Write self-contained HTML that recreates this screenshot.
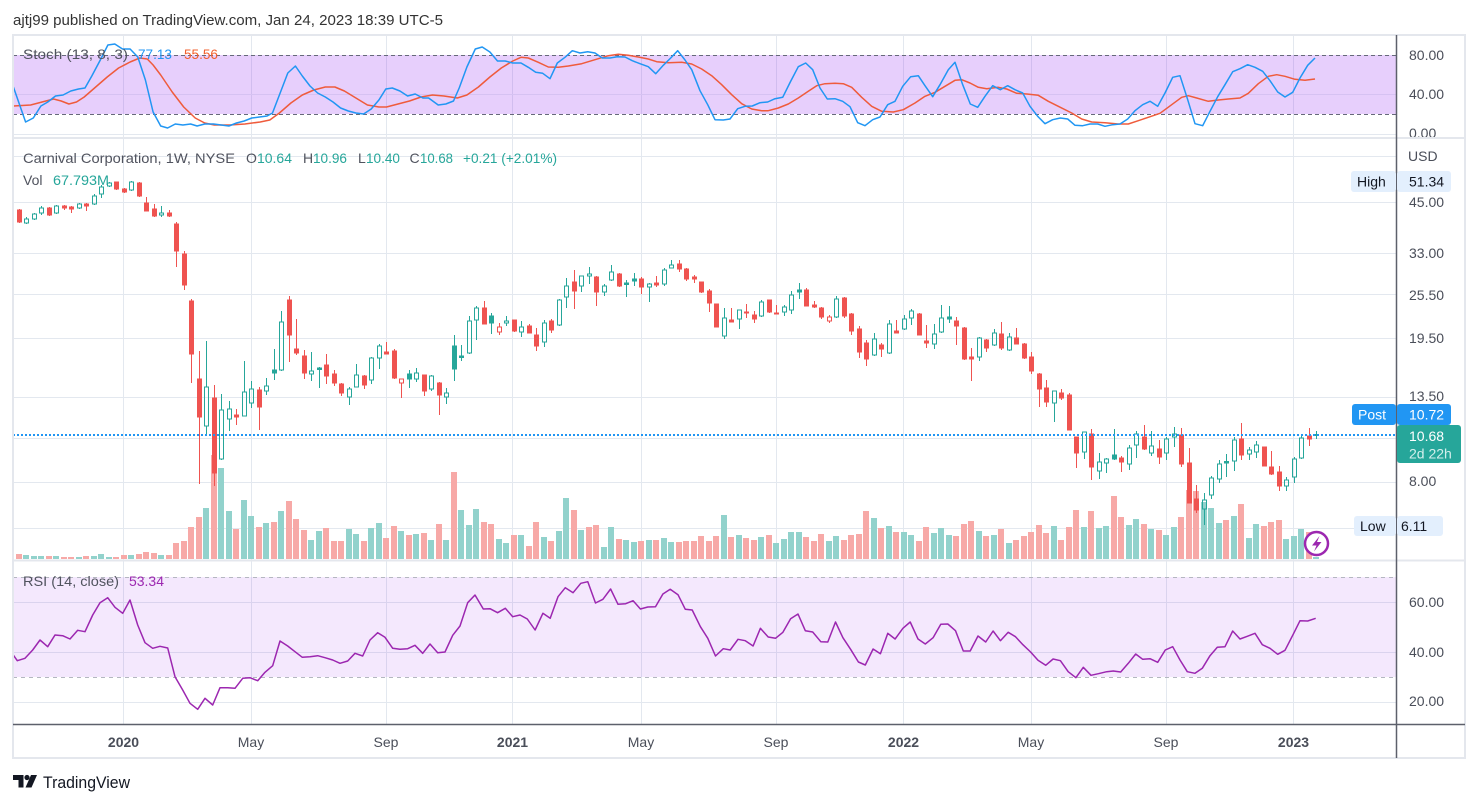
<!DOCTYPE html>
<html><head><meta charset="utf-8"><style>
html,body{margin:0;padding:0;background:#fff;}
svg{display:block;}
text{font-family:"Liberation Sans",Arial,sans-serif;}
</style></head><body>
<svg width="1479" height="803" viewBox="0 0 1479 803" xmlns="http://www.w3.org/2000/svg">
<defs>
<clipPath id="cs"><rect x="13" y="35" width="1383" height="102"/></clipPath>
<clipPath id="cm"><rect x="13" y="139" width="1383" height="420"/></clipPath>
<clipPath id="cr"><rect x="13" y="561" width="1383" height="162"/></clipPath>
<clipPath id="cax"><rect x="1397" y="35" width="68" height="102"/></clipPath>
</defs>
<rect width="1479" height="803" fill="#fff"/>

<text x="13" y="25" font-size="15" fill="#333" textLength="430" lengthAdjust="spacingAndGlyphs">ajtj99 published on TradingView.com, Jan 24, 2023 18:39 UTC-5</text>

<g stroke="#e3e8ef" stroke-width="1">
<path d="M123.5 35V724M251.5 35V724M386.5 35V724M512.5 35V724M641.5 35V724M776.5 35V724M903.5 35V724M1031.5 35V724M1166.5 35V724M1293.5 35V724"/>
<path d="M13 94.5H1396M13 134.5H1396"/>
<path d="M13 156.5H1396M13 202.5H1396M13 253.5H1396M13 294.5H1396M13 338.5H1396M13 397.5H1396M13 438.5H1396M13 482.5H1396M13 528.5H1396"/>
<path d="M13 602.5H1396M13 652.5H1396M13 702.5H1396"/>
</g>

<g clip-path="url(#cs)">
<rect x="13" y="55" width="1383" height="59" fill="rgba(140,30,240,0.21)"/>
<path d="M13 94.5H1396" stroke="#d6c2f2" stroke-width="1"/>
<path d="M13 55.5H1396M13 114.5H1396" stroke="#66697a" stroke-width="1" stroke-dasharray="4 3"/>
<polyline fill="none" stroke="#ef5b3c" stroke-width="1.5" stroke-linejoin="round" points="13.4,106 30.6,105 38.3,103 45.9,101 53.6,99 61.2,101 68.9,104 76.5,102 84.2,97 95.7,87 107.2,77 118.6,68 130.1,62 139.7,58 147.3,59 153.1,65 160.7,75 172.2,92 183.7,107 195.2,118 204.7,123 214.3,125 229.6,125 244.9,124 260.2,122 269.8,120 279.4,113 290.9,103 302.3,95 313.8,90 325.3,87 334.9,87 344.4,91 355.9,98 367.4,105 378.9,107 386.5,107 398,104 409.5,101 421,97 432.5,95 443.9,96 457.3,98 466.9,95 478.4,87 489.9,77 501.3,68 512.8,61 521,57.3 528.3,58 538.3,62.3 548.3,67 558.3,67.3 568.3,66 581.7,63.7 595,59.7 608.3,55.7 618.3,54.3 628.3,55.3 638.3,57 648.3,59 656.7,61.7 668.3,62.7 681.7,62.3 691.7,64 701.7,69 711.7,75.7 721.7,84.7 731.7,94.7 741.7,103.7 751.7,109 761.7,110.7 768.3,110.7 778.3,108 788.3,104 798.3,98 808.3,91.3 816.7,85.7 825,83.7 835,83.3 843.3,83.7 851.7,87.3 861.7,97.3 871.7,106.3 881.7,111.3 893.3,112 903.3,109.7 915,103 925,96.3 935,92.3 945,86.3 955,80.3 961.7,79.7 970,83 978.3,87.3 986.7,88.7 998.3,87.3 1006.7,89 1016.7,93.3 1026.7,94 1038.3,95.3 1048.3,101.3 1058.3,106.3 1071.7,113 1081.7,119 1091.7,122 1105,122.7 1118.3,124 1128.3,124 1138.3,120.7 1148.3,117.3 1160,113.3 1171.7,104.7 1181.7,97.3 1188.3,95.7 1196.7,98 1208.3,101.3 1218.3,100 1228.3,99 1240,98 1248.3,93.3 1258.3,83.7 1268.3,76.3 1276.7,74.7 1285,76.3 1295,79.3 1305,80.3 1315,79"/>
<polyline fill="none" stroke="#2196f3" stroke-width="1.5" stroke-linejoin="round" points="13.4,87 25.6,122 33.3,118 40.9,106 47.8,102 55.5,96 63.1,95 70.8,91 78.5,89 85,88 91.8,76 100.3,60 107.9,45 114.8,44 122.5,49 130.1,49 137.8,57 145.4,80 153.1,112 160.7,126 167.6,128 175.3,124 182.9,125 190.6,124 197.1,126 204.7,124 213.5,124 221.2,125 228.9,126 236.5,123 244.2,121 251.8,118 259.5,117 267.1,116 272.5,113 281.3,90 287.8,73 295.4,66 302.3,76 310,86 317.6,93 325.3,97 333,102 340.6,108 348.3,111 355.9,113 363.6,114 371.2,109 378.9,100 385.8,89 392.3,88 399.9,91 407.6,96 415.2,94 422.9,98 428.6,98 438.2,105 445.8,104 453.5,101 459.2,88 466.9,67 475.3,49 482.2,47 489.9,52 497.5,61 505.2,61 512.8,63 521,63 528.3,67.3 535.7,72.3 542.7,73.3 550,78.7 557.3,63 565,57.3 572.3,50.7 580,53 587.7,51.7 595,53 602.3,58 610,58 617.3,56.7 625,57 632.3,60.7 640,63.7 648.3,66.7 655.7,73.7 663.3,65.3 670.7,58 677.7,50.7 685,60 691.7,69.7 700,90.7 707.7,104.7 715,119.7 723.3,120 730,119 737.7,108.7 745,106.3 752.3,106 760,102.7 767.7,102 775,98.7 782.7,97.3 790.3,82 798.3,66.7 805.7,63 812.7,69.7 820,88 827.3,99 835,98.7 842.7,101.3 850,106.7 857.7,122.7 865,125.7 872.7,119.7 880,117 887.7,104.7 895,101.3 902.7,86.3 910.7,76.7 918.3,75.7 925,85.7 932.7,96.7 940,84.7 948.3,69.7 955,62.3 962.7,84.7 970.3,104 977.7,107.3 985,96.3 992.7,85.7 1000.3,89.7 1007.7,85.7 1015,89.7 1022.7,93 1030,106.3 1037.7,116.3 1045,123.7 1052.7,119.7 1060.3,118 1067.7,119 1075,125.3 1082.7,125.7 1090,124 1097.7,124 1105,126.3 1112.7,124.7 1120,124 1127.7,119 1135,110.7 1142.7,104.7 1150,101.3 1157.7,106.3 1165,93 1172.7,77.3 1180,75.7 1187.7,99.7 1195,123.7 1202.7,125.7 1210,111.3 1217.7,96.7 1225,84.7 1232.7,71.7 1240,68.7 1247.7,64.7 1255,67.3 1262.7,71.3 1270,80.7 1277.7,92 1285,97 1292.7,92.3 1300,78 1307.7,65.3 1315,58"/>
</g>
<text x="23" y="59" font-size="14" fill="#50535e" textLength="105" lengthAdjust="spacingAndGlyphs">Stoch (13, 8, 3)</text>
<text x="138" y="59" font-size="14" fill="#2196f3" textLength="34" lengthAdjust="spacingAndGlyphs">77.13</text>
<text x="184" y="59" font-size="14" fill="#f2602f" textLength="34" lengthAdjust="spacingAndGlyphs">55.56</text>

<g clip-path="url(#cr)">
<rect x="13" y="577" width="1383" height="100" fill="rgba(150,30,240,0.1)"/>
<path d="M13 577.5H1396M13 677.5H1396" stroke="#b4b7c0" stroke-width="1" stroke-dasharray="4 4"/>
<polyline fill="none" stroke="#9c27b0" stroke-width="1.5" stroke-linejoin="round" points="13.3,655 17.3,660.7 25,658.3 32.7,650 40,640 47.7,646.7 55,635 62.7,635.7 70,639 77.7,630.3 85,631.7 92.7,615 100,602.7 107.7,597.7 115,607.3 122.7,613.3 130,600 137.7,625 145,642.7 152.7,648.3 160,646.3 167.7,648 175,676.7 182.7,690 190,703.3 197.7,709.3 205,698.3 212.7,705 220,687.7 227.7,687.7 235,688.3 242.7,678.3 250,677.7 257.7,680.7 265,672.3 272.7,665.7 280,641 287.7,646 295,651.7 302.3,657.3 310,656.7 317.7,655.7 325,657.7 332.7,660 340,663.3 347.7,661 355,653.3 362.7,656 370,640 377.7,632.7 385,637.3 392.7,648.3 400,649.3 407.7,648.7 415,645.3 422.7,653.3 430,644 437.7,652.7 445,652 452.7,635.3 460,626 467.7,602.7 475,595 483.3,609 490,608.7 497.6,612.7 505.3,608.3 512.7,616.7 520,615 527.3,619 535.1,630 542.9,613.3 550.2,618.3 558,596.7 565.3,587.7 573.1,592.7 580.8,583.3 587.8,581.7 595.5,603 602.9,599.3 610.6,589 618,604.3 625.7,603.7 633.1,600.7 640.4,609 647.8,607 655.5,606.7 662.9,594 670.2,589.3 678,594.7 685.3,609.3 692.2,610 700.4,626.7 707.8,638.3 715.5,656 723.3,648.7 730.2,650 738,639.3 745.3,640.7 753.1,646 760.4,628.3 768.2,637 775.5,638.3 782.9,632.3 790.6,618.7 798,614 805.3,630.7 812.7,632 820.8,641.7 827.8,642 835.5,622 842.9,637.7 850.6,649.3 858.4,662 865.3,665 873.1,649 880.4,653.7 887.8,633.3 895.1,639 902.9,628.3 910.2,622 918,639 925.3,644 933.1,637.7 940.8,624.3 947.8,624 955.5,630.7 963.3,651 970.2,651 978,636 985.7,642 993.1,631 1000.4,640.7 1008.2,632.3 1015.5,636.7 1022.9,644.7 1030.6,652 1038,660.3 1045.7,665.3 1053.1,659 1060.4,660.7 1068.2,671.7 1075.9,677.7 1083.3,667.3 1091,675.3 1098.4,673.7 1106.7,671.7 1113.3,671 1120.7,672 1128.3,663.3 1135.7,654 1142.7,659.3 1150,658.7 1157.7,662.3 1165.3,650 1172.7,646.7 1180,660 1187.3,671.7 1195,673.3 1202.3,668.3 1210,655.7 1217.3,647.3 1225,646.7 1232.7,631 1240,639 1247.3,636.3 1255,633.3 1262.3,644.7 1270,648.3 1277.7,654.3 1285,650.3 1292.7,635.3 1300,620.7 1307.7,621 1315.7,618.3"/>
</g>
<text x="23" y="586" font-size="14" fill="#50535e" textLength="96" lengthAdjust="spacingAndGlyphs">RSI (14, close)</text>
<text x="129" y="586" font-size="14" fill="#9c27b0" textLength="35" lengthAdjust="spacingAndGlyphs">53.34</text>

<g clip-path="url(#cm)">
<path fill="#f7a9a7" d="M8 554h6V560h-6zM16 554h6V560h-6zM46 556h6V560h-6zM61 557h6V560h-6zM68 557h6V560h-6zM83 556h6V560h-6zM113 557h6V560h-6zM121 555h6V560h-6zM136 554h6V560h-6zM143 552h6V560h-6zM151 553h6V560h-6zM166 555h6V560h-6zM173 543h6V560h-6zM181 541h6V560h-6zM188 527h6V560h-6zM196 517h6V560h-6zM211 455h6V560h-6zM233 529h6V560h-6zM256 527h6V560h-6zM271 522h6V560h-6zM286 501h6V560h-6zM293 519h6V560h-6zM301 530h6V560h-6zM323 528h6V560h-6zM331 541h6V560h-6zM338 541h6V560h-6zM361 541h6V560h-6zM383 538h6V560h-6zM391 526h6V560h-6zM406 535h6V560h-6zM421 533h6V560h-6zM436 524h6V560h-6zM451 472h6V560h-6zM481 522h6V560h-6zM488 524h6V560h-6zM511 535h6V560h-6zM526 546h6V560h-6zM533 522h6V560h-6zM548 541h6V560h-6zM571 510h6V560h-6zM586 527h6V560h-6zM593 525h6V560h-6zM616 539h6V560h-6zM638 541h6V560h-6zM653 540h6V560h-6zM676 542h6V560h-6zM683 541h6V560h-6zM691 541h6V560h-6zM698 536h6V560h-6zM706 541h6V560h-6zM713 536h6V560h-6zM728 537h6V560h-6zM743 538h6V560h-6zM751 540h6V560h-6zM766 535h6V560h-6zM803 537h6V560h-6zM811 541h6V560h-6zM818 534h6V560h-6zM841 540h6V560h-6zM848 535h6V560h-6zM856 534h6V560h-6zM863 511h6V560h-6zM878 528h6V560h-6zM893 532h6V560h-6zM916 541h6V560h-6zM923 527h6V560h-6zM953 536h6V560h-6zM961 524h6V560h-6zM968 521h6V560h-6zM983 536h6V560h-6zM998 529h6V560h-6zM1013 540h6V560h-6zM1021 536h6V560h-6zM1028 532h6V560h-6zM1036 525h6V560h-6zM1043 533h6V560h-6zM1058 540h6V560h-6zM1066 527h6V560h-6zM1073 510h6V560h-6zM1088 511h6V560h-6zM1111 496h6V560h-6zM1118 517h6V560h-6zM1141 524h6V560h-6zM1156 530h6V560h-6zM1178 517h6V560h-6zM1186 490h6V560h-6zM1193 491h6V560h-6zM1223 520h6V560h-6zM1238 504h6V560h-6zM1261 526h6V560h-6zM1268 522h6V560h-6zM1276 520h6V560h-6zM1306 532h6V560h-6z"/>
<path fill="#92d2cc" d="M23 555h6V560h-6zM31 556h6V560h-6zM38 556h6V560h-6zM53 556h6V560h-6zM76 557h6V560h-6zM91 556h6V560h-6zM98 554h6V560h-6zM106 557h6V560h-6zM128 555h6V560h-6zM158 555h6V560h-6zM203 508h6V560h-6zM218 468h6V560h-6zM226 511h6V560h-6zM241 500h6V560h-6zM248 516h6V560h-6zM263 523h6V560h-6zM278 511h6V560h-6zM308 540h6V560h-6zM316 531h6V560h-6zM346 529h6V560h-6zM353 534h6V560h-6zM368 528h6V560h-6zM376 523h6V560h-6zM398 531h6V560h-6zM413 534h6V560h-6zM428 540h6V560h-6zM443 540h6V560h-6zM458 510h6V560h-6zM466 525h6V560h-6zM473 509h6V560h-6zM496 539h6V560h-6zM503 543h6V560h-6zM518 535h6V560h-6zM541 537h6V560h-6zM556 531h6V560h-6zM563 498h6V560h-6zM578 530h6V560h-6zM601 547h6V560h-6zM608 527h6V560h-6zM623 540h6V560h-6zM631 542h6V560h-6zM646 540h6V560h-6zM661 538h6V560h-6zM668 542h6V560h-6zM721 515h6V560h-6zM736 535h6V560h-6zM758 537h6V560h-6zM773 543h6V560h-6zM781 539h6V560h-6zM788 532h6V560h-6zM796 532h6V560h-6zM826 541h6V560h-6zM833 536h6V560h-6zM871 518h6V560h-6zM886 526h6V560h-6zM901 532h6V560h-6zM908 535h6V560h-6zM931 533h6V560h-6zM938 528h6V560h-6zM946 535h6V560h-6zM976 531h6V560h-6zM991 535h6V560h-6zM1006 543h6V560h-6zM1051 526h6V560h-6zM1081 527h6V560h-6zM1096 528h6V560h-6zM1103 526h6V560h-6zM1126 525h6V560h-6zM1133 519h6V560h-6zM1148 529h6V560h-6zM1163 535h6V560h-6zM1171 527h6V560h-6zM1201 502h6V560h-6zM1208 508h6V560h-6zM1216 523h6V560h-6zM1231 516h6V560h-6zM1246 538h6V560h-6zM1253 524h6V560h-6zM1283 539h6V560h-6zM1291 536h6V560h-6zM1298 529h6V560h-6zM1313 557h6V560h-6z"/>

<path fill="#ef5350" stroke="#ef5350" stroke-width="1" d="M11.5 196V212M9.5 198h4V210h-4zM19.5 209V223M17.5 210h4V222h-4zM49.5 207V216M47.5 208h4V215h-4zM64.5 205V210M62.5 206h4V208h-4zM71.5 206V213M69.5 207h4V209h-4zM86.5 203V211M84.5 204h4V206h-4zM116.5 182V190M114.5 182h4V189h-4zM124.5 188V193M122.5 189h4V192h-4zM139.5 182V197M137.5 183h4V196h-4zM146.5 197V211M144.5 203h4V211h-4zM154.5 204V217M152.5 209h4V216h-4zM169.5 210V217M167.5 213h4V216h-4zM176.5 222V267M174.5 224h4V251h-4zM184.5 251V290M182.5 254h4V285h-4zM191.5 299V383M189.5 301h4V354h-4zM199.5 351V484M197.5 379h4V417h-4zM214.5 385V486M212.5 398h4V473h-4zM236.5 409V425M234.5 415h4V417h-4zM259.5 387V430M257.5 390h4V407h-4zM289.5 296V362M287.5 300h4V335h-4zM296.5 319V355M294.5 349h4V353h-4zM304.5 350V379M302.5 356h4V373h-4zM326.5 354V384M324.5 365h4V376h-4zM334.5 370V386M332.5 374h4V383h-4zM341.5 383V396M339.5 384h4V393h-4zM364.5 375V389M362.5 376h4V385h-4zM386.5 342V354M384.5 352h4V354h-4zM394.5 349V379M392.5 351h4V378h-4zM424.5 375V396M422.5 375h4V391h-4zM439.5 382V415M437.5 383h4V395h-4zM484.5 301V324M482.5 308h4V324h-4zM514.5 320V332M512.5 320h4V331h-4zM529.5 324V333M527.5 326h4V333h-4zM536.5 328V351M534.5 335h4V346h-4zM551.5 319V333M549.5 321h4V330h-4zM574.5 270V309M572.5 282h4V291h-4zM596.5 276V306M594.5 277h4V292h-4zM619.5 273V287M617.5 274h4V286h-4zM641.5 277V294M639.5 279h4V287h-4zM656.5 276V287M654.5 283h4V285h-4zM679.5 260V272M677.5 264h4V269h-4zM686.5 268V281M684.5 269h4V279h-4zM694.5 275V283M692.5 277h4V279h-4zM701.5 282V293M699.5 282h4V292h-4zM709.5 289V312M707.5 291h4V303h-4zM716.5 304V327M714.5 304h4V327h-4zM731.5 308V322M729.5 320h4V322h-4zM746.5 304V318M744.5 312h4V313h-4zM754.5 311V323M752.5 315h4V319h-4zM769.5 300V313M767.5 300h4V312h-4zM776.5 305V314M774.5 313h4V314h-4zM806.5 288V306M804.5 290h4V306h-4zM814.5 301V308M812.5 305h4V307h-4zM821.5 307V319M819.5 308h4V317h-4zM844.5 297V318M842.5 298h4V316h-4zM851.5 313V335M849.5 314h4V331h-4zM859.5 326V358M857.5 329h4V352h-4zM866.5 340V366M864.5 343h4V359h-4zM881.5 343V357M879.5 345h4V349h-4zM896.5 320V333M894.5 331h4V333h-4zM919.5 313V335M917.5 314h4V335h-4zM926.5 325V348M924.5 341h4V343h-4zM956.5 317V345M954.5 321h4V326h-4zM964.5 327V360M962.5 328h4V359h-4zM971.5 348V381M969.5 357h4V359h-4zM986.5 339V352M984.5 340h4V348h-4zM1001.5 322V350M999.5 334h4V348h-4zM1016.5 328V344M1014.5 338h4V344h-4zM1024.5 343V359M1022.5 344h4V358h-4zM1031.5 352V374M1029.5 357h4V371h-4zM1039.5 373V407M1037.5 374h4V389h-4zM1046.5 380V407M1044.5 388h4V402h-4zM1061.5 389V400M1059.5 393h4V398h-4zM1069.5 393V430M1067.5 395h4V430h-4zM1076.5 437V468M1074.5 437h4V453h-4zM1091.5 429V480M1089.5 434h4V467h-4zM1121.5 456V472M1119.5 458h4V462h-4zM1144.5 425V450M1142.5 437h4V449h-4zM1159.5 440V464M1157.5 449h4V457h-4zM1181.5 428V467M1179.5 435h4V464h-4zM1189.5 448V503M1187.5 463h4V503h-4zM1196.5 485V513M1194.5 499h4V510h-4zM1241.5 423V460M1239.5 439h4V455h-4zM1264.5 447V466M1262.5 447h4V466h-4zM1271.5 451V475M1269.5 467h4V474h-4zM1279.5 466V491M1277.5 472h4V486h-4zM1309.5 428V446M1307.5 436h4V439h-4z"/>
<path fill="#26a69a" stroke="#26a69a" stroke-width="1" d="M274.5 349V380M272.5 370h4V373h-4zM319.5 367V388M317.5 368h4V369.5h-4zM409.5 370V388M407.5 374h4V379h-4zM454.5 335V381M452.5 346h4V369h-4zM461.5 345V361M459.5 356h4V357.5h-4zM491.5 313V334M489.5 316h4V323h-4zM626.5 280V297M624.5 283h4V284.5h-4zM634.5 273V286M632.5 279h4V281h-4zM799.5 283V299M797.5 290h4V292h-4zM949.5 306V323M947.5 317h4V319h-4zM1114.5 429V460M1112.5 455h4V459h-4zM1226.5 454V477M1224.5 461.5h4V463h-4z"/>
<path fill="none" stroke="#26a69a" stroke-width="1" d="M24.5 219h4V223h-4zM26.5 217V219M26.5 223V224M32.5 214h4V219h-4zM34.5 213V214M34.5 219V220M39.5 208h4V213h-4zM41.5 206V208M41.5 213V215M54.5 206h4V213h-4zM56.5 205V206M56.5 213V214M77.5 204h4V208h-4zM79.5 203V204M79.5 208V209M92.5 196h4V204h-4zM94.5 194V196M94.5 204V205M99.5 187h4V194h-4zM101.5 185V187M101.5 194V198M107.5 183h4V186h-4zM109.5 182V183M109.5 186V187M129.5 182h4V190h-4zM131.5 181V182M131.5 190V191M159.5 213h4V215h-4zM161.5 206V213M161.5 215V217M204.5 387h4V426h-4zM206.5 341V387M206.5 426V435M219.5 410h4V459h-4zM221.5 394V410M221.5 459V460M227.5 409h4V419h-4zM229.5 401V409M229.5 419V431M242.5 392h4V416h-4zM244.5 361V392M249.5 389h4V403h-4zM251.5 381V389M251.5 403V408M264.5 386h4V391h-4zM266.5 378V386M266.5 391V395M279.5 322h4V370h-4zM281.5 311V322M281.5 370V371M309.5 371h4V374h-4zM311.5 352V371M311.5 374V381M347.5 389h4V397h-4zM349.5 387V389M349.5 397V405M354.5 375h4V387h-4zM356.5 364V375M369.5 358h4V380h-4zM371.5 357V358M371.5 380V384M377.5 346h4V358h-4zM379.5 344V346M379.5 358V369M414.5 373h4V379h-4zM416.5 368V373M416.5 379V382M429.5 376h4V389h-4zM431.5 375V376M431.5 389V391M444.5 393h4V397h-4zM446.5 388V393M446.5 397V404M467.5 321h4V353h-4zM469.5 316V321M469.5 353V354M474.5 308h4V320h-4zM476.5 306V308M476.5 320V340M504.5 321h4V323h-4zM506.5 316V321M506.5 323V326M519.5 327h4V332h-4zM521.5 321V327M521.5 332V337M542.5 323h4V342h-4zM544.5 320V323M544.5 342V347M557.5 300h4V325h-4zM559.5 299V300M559.5 325V326M564.5 286h4V297h-4zM566.5 278V286M566.5 297V308M579.5 276h4V286h-4zM581.5 286V292M587.5 274h4V276h-4zM589.5 267V274M589.5 276V284M602.5 286h4V292h-4zM604.5 284V286M604.5 292V296M609.5 272h4V280h-4zM611.5 265V272M611.5 280V281M647.5 284h4V287h-4zM649.5 283V284M649.5 287V302M662.5 270h4V284h-4zM664.5 268V270M664.5 284V286M669.5 265h4V268h-4zM671.5 260V265M722.5 318h4V336h-4zM724.5 308V318M724.5 336V339M737.5 310h4V319h-4zM739.5 319V329M759.5 302h4V316h-4zM761.5 300V302M761.5 316V317M782.5 307h4V312h-4zM784.5 305V307M784.5 312V316M789.5 295h4V310h-4zM791.5 291V295M791.5 310V314M834.5 299h4V317h-4zM836.5 296V299M836.5 317V318M872.5 339h4V355h-4zM874.5 333V339M874.5 355V356M887.5 324h4V353h-4zM889.5 320V324M889.5 353V354M902.5 319h4V329h-4zM904.5 315V319M904.5 329V330M909.5 311h4V318h-4zM911.5 309V311M911.5 318V325M932.5 334h4V344h-4zM934.5 324V334M934.5 344V349M939.5 318h4V332h-4zM941.5 305V318M941.5 332V333M977.5 338h4V357h-4zM979.5 337V338M979.5 357V361M992.5 333h4V345h-4zM994.5 329V333M994.5 345V346M1007.5 337h4V350h-4zM1009.5 333V337M1009.5 350V351M1052.5 391h4V403h-4zM1054.5 403V422M1082.5 432h4V452h-4zM1084.5 452V459M1097.5 462h4V471h-4zM1099.5 453V462M1099.5 471V479M1104.5 459h4V463h-4zM1106.5 458V459M1106.5 463V473M1127.5 448h4V464h-4zM1129.5 445V448M1129.5 464V470M1134.5 434h4V445h-4zM1136.5 431V434M1136.5 445V458M1149.5 446h4V453h-4zM1151.5 431V446M1151.5 453V456M1164.5 439h4V453h-4zM1166.5 437V439M1166.5 453V460M1172.5 434h4V437h-4zM1174.5 427V434M1174.5 437V447M1202.5 500h4V509h-4zM1204.5 493V500M1204.5 509V525M1209.5 478h4V495h-4zM1211.5 476V478M1211.5 495V499M1217.5 464h4V479h-4zM1219.5 460V464M1219.5 479V483M1232.5 440h4V461h-4zM1234.5 437V440M1234.5 461V471M1247.5 450h4V454h-4zM1249.5 447V450M1249.5 454V460M1254.5 445h4V452h-4zM1256.5 441V445M1256.5 452V458M1284.5 480h4V486h-4zM1286.5 477V480M1286.5 486V491M1292.5 459h4V477h-4zM1294.5 457V459M1294.5 477V483M1299.5 438h4V458h-4zM1301.5 436V438M1301.5 458V459M1314.5 434.5h4V435.5h-4zM1316.5 431V434.5M1316.5 435.5V439"/>
<path fill="none" stroke="#ef5350" stroke-width="1" d="M399.5 379h4V383h-4zM401.5 383V398M497.5 327h4V332h-4zM499.5 323V327M499.5 332V335M827.5 317h4V321h-4zM829.5 315V317M829.5 321V323"/>

<path d="M13 435H1396" stroke="#2196f3" stroke-width="2" stroke-dasharray="2 2"/>
</g>

<text x="23" y="163" font-size="14" fill="#50535e" textLength="212" lengthAdjust="spacingAndGlyphs">Carnival Corporation, 1W, NYSE</text>
<text x="246" y="163" font-size="14" fill="#50535e">O</text>
<text x="257" y="163" font-size="14" fill="#26a69a" textLength="35" lengthAdjust="spacingAndGlyphs">10.64</text>
<text x="303" y="163" font-size="14" fill="#50535e">H</text>
<text x="313" y="163" font-size="14" fill="#26a69a" textLength="34" lengthAdjust="spacingAndGlyphs">10.96</text>
<text x="358" y="163" font-size="14" fill="#50535e">L</text>
<text x="366" y="163" font-size="14" fill="#26a69a" textLength="34" lengthAdjust="spacingAndGlyphs">10.40</text>
<text x="409.5" y="163" font-size="14" fill="#50535e">C</text>
<text x="420" y="163" font-size="14" fill="#26a69a" textLength="33" lengthAdjust="spacingAndGlyphs">10.68</text>
<text x="463" y="163" font-size="14" fill="#26a69a" textLength="94" lengthAdjust="spacingAndGlyphs">+0.21 (+2.01%)</text>
<text x="23" y="185" font-size="14" fill="#50535e">Vol</text>
<text x="53" y="185" font-size="14" fill="#26a69a" textLength="56" lengthAdjust="spacingAndGlyphs">67.793M</text>

<circle cx="1316.5" cy="543.5" r="11.5" fill="#fff" stroke="#9c27b0" stroke-width="2.5"/>
<path d="M1319.5 536L1312 545.5H1316.5L1314 551.5L1321.5 542H1317z" fill="#9c27b0"/>

<g fill="none">
<rect x="13" y="35" width="1452" height="723" stroke="#e4e7ed" stroke-width="2"/>
<path d="M13 138H1465M13 560.5H1465" stroke="#e4e7ed" stroke-width="2"/>
<path d="M13 724.5H1465" stroke="#5d606b" stroke-width="1.5"/>
<path d="M1396.5 35V758" stroke="#5d606b" stroke-width="1.5"/>
</g>

<g font-size="14" fill="#4a4e59">
<text x="1409" y="60">80.00</text>
<text x="1409" y="99">40.00</text>
<g clip-path="url(#cax)"><text x="1409" y="138">0.00</text></g>
<text x="1408" y="161">USD</text>
<text x="1409" y="207">45.00</text>
<text x="1409" y="258">33.00</text>
<text x="1409" y="300">25.50</text>
<text x="1409" y="343">19.50</text>
<text x="1409" y="401">13.50</text>
<text x="1409" y="486">8.00</text>
<text x="1409" y="607">60.00</text>
<text x="1409" y="657">40.00</text>
<text x="1409" y="706">20.00</text>
</g>

<rect x="1351" y="171" width="45" height="21" rx="3" fill="#e3effd"/>
<rect x="1397" y="171" width="54" height="21" rx="3" fill="#e3effd"/>
<text x="1357" y="186.5" font-size="14" fill="#131722">High</text>
<text x="1409" y="186.5" font-size="14" fill="#131722">51.34</text>
<rect x="1352" y="404" width="44" height="21" rx="3" fill="#2196f3"/>
<rect x="1397" y="404" width="54" height="21" rx="3" fill="#2196f3"/>
<text x="1358" y="419.5" font-size="14" fill="#fff">Post</text>
<text x="1409" y="419.5" font-size="14" fill="#fff">10.72</text>
<rect x="1397" y="425" width="64" height="38" rx="3" fill="#26a69a"/>
<text x="1409" y="441" font-size="14" fill="#fff">10.68</text>
<text x="1409" y="458.5" font-size="14" fill="#d4efec">2d 22h</text>
<rect x="1354" y="516" width="42" height="20" rx="3" fill="#e3effd"/>
<rect x="1397" y="516" width="46" height="20" rx="3" fill="#e3effd"/>
<text x="1360" y="531" font-size="14" fill="#131722">Low</text>
<text x="1401" y="531" font-size="14" fill="#131722">6.11</text>

<g font-size="14" fill="#4a4e59" text-anchor="middle">
<text x="123.5" y="747" font-weight="bold">2020</text>
<text x="251" y="747">May</text>
<text x="386" y="747">Sep</text>
<text x="512.5" y="747" font-weight="bold">2021</text>
<text x="641" y="747">May</text>
<text x="776" y="747">Sep</text>
<text x="903.5" y="747" font-weight="bold">2022</text>
<text x="1031" y="747">May</text>
<text x="1166" y="747">Sep</text>
<text x="1293.5" y="747" font-weight="bold">2023</text>
</g>

<g fill="#131722">
<path d="M13 775h10.5v12.5h-5v-7.5h-5.5z"/>
<circle cx="27" cy="777.5" r="2.6"/>
<path d="M31 775h6l-5.5 12.5h-6z"/>
</g>
<text x="43" y="788" font-size="17" fill="#131722" textLength="87" lengthAdjust="spacingAndGlyphs">TradingView</text>
</svg>
</body></html>
